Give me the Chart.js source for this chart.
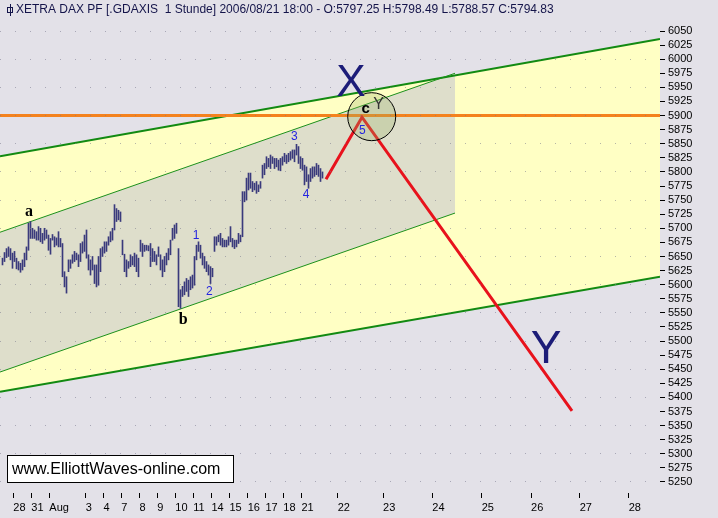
<!DOCTYPE html>
<html><head><meta charset="utf-8">
<script src="https://cdn.jsdelivr.net/npm/chart.js@4.4.0/dist/chart.umd.min.js"></script>
<style>html,body{margin:0;padding:0;background:#e3e1e8;overflow:hidden}canvas{display:block}</style>
</head><body>
<canvas id="c" width="718" height="518"></canvas>
<script>
// ---- hourly bars (low / high), bar i sits at x-position i ----
const barLow = [5635,5641,5648,5650,5644,5629,5641,5628,5626,5622,5626,5632,5644,5661,5682,5682,5682,5679,5679,5676,
5673,5679,5682,5661,5654,5679,5667,5670,5667,5667,5614,5596,5585,5623,5629,5638,5641,5644,5632,5641,
5656,5659,5647,5626,5617,5626,5602,5596,5599,5623,5650,5656,5659,5670,5676,5679,5697,5712,5715,5712,
5653,5623,5614,5629,5632,5635,5632,5623,5614,5659,5650,5659,5661,5660,5632,5641,5641,5635,5650,5626,
5614,5623,5635,5644,5653,5679,5682,5691,5561,5558,5579,5582,5588,5579,5591,5594,5599,5644,5659,5647,
5635,5629,5623,5617,5602,5614,5659,5670,5676,5670,5667,5667,5667,5670,5676,5667,5664,5667,5673,5676,
5685,5747,5750,5768,5771,5765,5768,5762,5765,5771,5789,5795,5806,5809,5806,5815,5806,5809,5803,5802,
5812,5818,5815,5818,5821,5824,5818,5830,5815,5806,5803,5777,5783,5771,5783,5789,5792,5795,5792,5783,5789];
const barHigh = [5647,5657,5664,5667,5664,5656,5659,5647,5641,5638,5644,5656,5667,5709,5712,5700,5697,5694,5703,5700,
5691,5700,5697,5688,5682,5689,5685,5683,5694,5682,5673,5623,5614,5644,5644,5653,5659,5656,5653,5673,
5676,5688,5697,5653,5644,5650,5635,5635,5650,5664,5667,5676,5676,5685,5694,5700,5742,5735,5732,5729,
5679,5654,5644,5641,5653,5650,5656,5653,5647,5679,5673,5670,5670,5669,5673,5664,5659,5653,5667,5653,
5644,5650,5656,5664,5679,5700,5706,5709,5664,5591,5597,5605,5611,5608,5614,5617,5650,5670,5676,5670,
5656,5650,5641,5635,5632,5629,5685,5685,5688,5691,5682,5679,5679,5685,5703,5682,5679,5679,5691,5688,
5765,5765,5789,5798,5798,5783,5780,5783,5777,5783,5812,5815,5827,5824,5830,5827,5824,5824,5821,5824,
5827,5833,5830,5833,5836,5839,5839,5849,5845,5827,5824,5812,5809,5795,5806,5809,5809,5815,5812,5806,5800];

// ---- axes ----
const xTickPos = [5.4,14.4,23.4,41.6,50.5,59.4,68.5,77.4,86.4,95.4,104.5,113.5,122.6,131.5,140.4,149.5,167.6,190.3,214.9,239.6,264.3,288.6,313.1];
const xTickLabels = ['28','31','Aug','3','4','7','8','9','10','11','14','15','16','17','18','21','22','23','24','25','26','27','28'];
const yTickValues = [6050,6025,6000,5975,5950,5925,5900,5875,5850,5825,5800,5775,5750,5725,5700,5675,5650,5625,5600,
5575,5550,5525,5500,5475,5450,5425,5400,5375,5350,5325,5300,5275,5250];
const xRange = [-1.25, 328.75];
const yRange = [5230.4, 6105];

// ---- drawn channel / projection lines (x position, price) ----
const outerUpperX = [-1.25, 328.75], outerUpperY = [5828, 6036];
const outerLowerX = [-1.25, 328.75], outerLowerY = [5410, 5614];
const innerUpperX = [-1.25, 226.25], innerUpperY = [5693, 5975];
const innerLowerX = [-1.25, 226.25], innerLowerY = [5445, 5727];
const resistanceLevel = 5900;
const projectionX = [161.75, 179.75, 284.75], projectionY = [5787, 5897, 5376];
const circleX = 184.6, circleY = 5898;

// ---- wave labels ----
const labelText = ['a','b','1','2','3','4','5','c','Y','X','Y'];
const labelX = [13.25, 90.4, 96.75, 103.4, 145.9, 151.75, 179.9, 181.6, 188, 174.25, 271.75];
const labelY = [5730, 5538, 5686, 5588, 5862, 5759, 5873, 5911, 5920, 5956, 5484];

const titleText = 'XETRA DAX PF [.GDAXIS  1 Stunde] 2006/08/21 18:00 - O:5797.25 H:5798.49 L:5788.57 C:5794.83';
const watermarkText = 'www.ElliottWaves-online.com';

const pts = (xs, ys) => xs.map((x, i) => ({x, y: ys[i]}));
const bars = barLow.map((lo, i) => ({x: i, y: [lo, barHigh[i]]}));

const labelFont = ['bold 16px "Liberation Serif"','bold 16px "Liberation Serif"','12px "Liberation Sans"','12px "Liberation Sans"',
 '12px "Liberation Sans"','12px "Liberation Sans"','12px "Liberation Sans"','bold 15px "Liberation Sans"','16px "Liberation Sans"',
 '44px "Liberation Sans"','46px "Liberation Sans"'];
const labelColor = ['#000','#000','#2424e0','#2424e0','#2424e0','#2424e0','#2424e0','#000','#333','#1c1c78','#1c1c78'];

const overlay = {
  id: 'overlay',
  afterDraw(chart) {
    const {ctx, chartArea: a, scales: {x, y}} = chart;
    ctx.save();
    ctx.textAlign = 'center'; ctx.textBaseline = 'middle';
    labelText.forEach((t, i) => {
      ctx.font = labelFont[i]; ctx.fillStyle = labelColor[i];
      ctx.fillText(t, x.getPixelForValue(labelX[i]), y.getPixelForValue(labelY[i]));
    });
    // title
    ctx.textAlign = 'left';
    ctx.font = '12px "Liberation Sans"'; ctx.fillStyle = '#14144a';
    ctx.fillText(titleText, a.left + 16, a.top + 10);
    ctx.strokeStyle = '#14144a'; ctx.lineWidth = 1;
    ctx.strokeRect(a.left + 7.5, a.top + 7.5, 5, 5);
    ctx.beginPath(); ctx.moveTo(a.left + 10.5, a.top + 4); ctx.lineTo(a.left + 10.5, a.top + 16); ctx.stroke();
    // watermark box
    ctx.fillStyle = '#fff'; ctx.fillRect(a.left + 7.5, a.bottom - 37.5, 226, 27);
    ctx.strokeStyle = '#000'; ctx.strokeRect(a.left + 7.5, a.bottom - 37.5, 226, 27);
    ctx.font = '16px "Liberation Sans"'; ctx.fillStyle = '#000';
    ctx.fillText(watermarkText, a.left + 12, a.bottom - 23.5);
    ctx.restore();
  }
};

new Chart(document.getElementById('c'), {
  type: 'bar',
  data: { datasets: [
    {type:'line', data: pts(outerUpperX, outerUpperY), borderColor:'#128a12', borderWidth:2, pointRadius:0, fill:'+1', backgroundColor:'#ffffc4', order:20},
    {type:'line', data: pts(outerLowerX, outerLowerY), borderColor:'#128a12', borderWidth:2, pointRadius:0, fill:false, order:19},
    {type:'line', data: pts(innerUpperX, innerUpperY), borderColor:'#1c901c', borderWidth:1, pointRadius:0, fill:'+1', backgroundColor:'#dedecb', order:18},
    {type:'line', data: pts(innerLowerX, innerLowerY), borderColor:'#1c901c', borderWidth:1, pointRadius:0, fill:false, order:17},
    {type:'line', data: pts(xRange, [resistanceLevel, resistanceLevel]), borderColor:'#f4821e', borderWidth:3, pointRadius:0, fill:false, order:16},
    {type:'bar', data: bars, backgroundColor:'#3a3a7c', barThickness:1, order:15},
    {type:'line', data: pts(projectionX, projectionY), borderColor:'#e8121c', borderWidth:3, pointRadius:0, fill:false, order:14},
    {type:'bubble', data: [{x: circleX, y: circleY, r: 24}], backgroundColor:'rgba(150,175,100,0.28)', borderColor:'#000', borderWidth:1, order:13}
  ]},
  options: {
    responsive: false, animation: false,
    layout: { padding: 0, autoPadding: false },
    plugins: { legend: {display:false}, tooltip: {enabled:false}, filler: {drawTime:'beforeDatasetsDraw'} },
    scales: {
      x: {
        type: 'linear', min: xRange[0], max: xRange[1], offset: false,
        afterBuildTicks: s => { s.ticks = xTickPos.map(v => ({value: v})); },
        afterFit: s => { s.height = 25; s.paddingLeft = 0; s.paddingRight = 0; },
        ticks: { autoSkip:false, maxRotation:0, align:'start', padding:3, color:'#000',
          font:{family:'Liberation Sans', size:11}, callback: (v, i) => xTickLabels[i] },
        grid: { drawOnChartArea:false, tickLength:5, tickColor:'#000', offset:false },
        border: { display:false }
      },
      y: {
        type: 'linear', position: 'right', min: yRange[0], max: yRange[1],
        afterBuildTicks: s => { s.ticks = yTickValues.map(v => ({value: v})); },
        afterFit: s => { s.width = 58; s.paddingTop = 0; s.paddingBottom = 0; },
        ticks: { autoSkip:false, padding:3, color:'#000', font:{family:'Liberation Sans', size:11}, callback: v => String(v) },
        grid: { z: 1, tickLength:5, tickColor:'#000', lineWidth:1,
          color: c => (c.tick && c.tick.value % 50 === 0) ? 'rgba(120,120,140,0.55)' : 'rgba(0,0,0,0)' },
        border: { display:false, dash:[1,14] }
      }
    }
  },
  plugins: [overlay]
});
</script>
</body></html>
